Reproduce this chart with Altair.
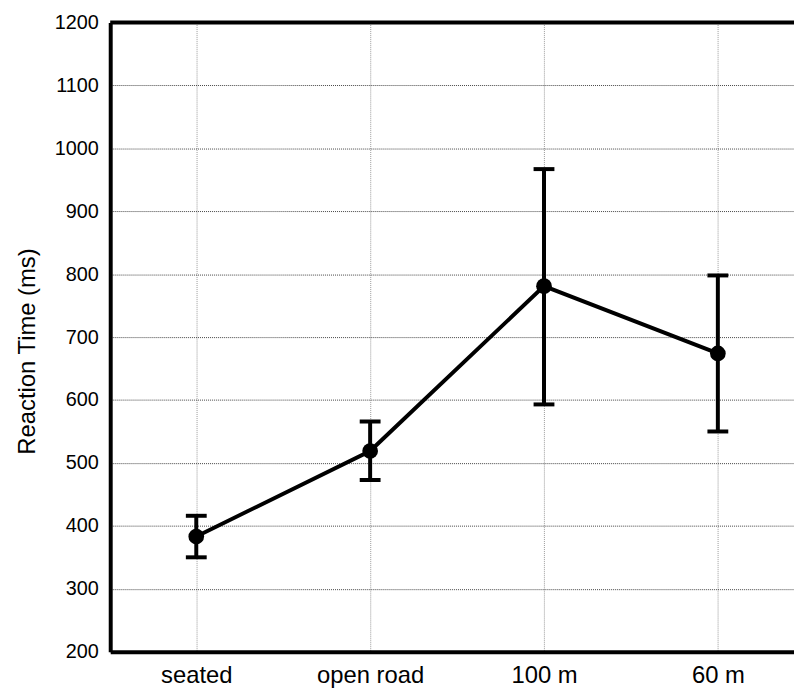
import altair as alt
import pandas as pd

categories = ["seated", "open road", "100 m", "60 m"]
means = [383, 519, 781, 674]
lower = [350, 473, 593, 550]
upper = [416, 566, 967, 798]
y_ticks = [200, 300, 400, 500, 600, 700, 800, 900, 1000, 1100, 1200]

df = pd.DataFrame({"cond": categories, "idx": list(range(len(categories))),
                   "rt": means, "lo": lower, "hi": upper})

FONT = "Liberation Sans"
W, H = 689, 634

label_expr = "[" + ",".join("'" + c + "'" for c in categories) + "][datum.value]"

xscale = alt.Scale(domain=[-0.495, 3.438], nice=False, zero=False)
yscale = alt.Scale(domain=[200, 1200], nice=False, zero=False)

x_enc = alt.X("idx:Q", scale=xscale,
              axis=alt.Axis(title=None, values=list(range(len(categories))),
                            labelExpr=label_expr, gridColor="#999999"))
y_enc = alt.Y("rt:Q", scale=yscale,
              axis=alt.Axis(title="Reaction Time (ms)", values=y_ticks, format="d",
                            gridColor="#444444"))

xs = alt.X("idx:Q", scale=xscale)
base = alt.Chart(df)

line = base.mark_line(color="black", strokeWidth=4).encode(x=x_enc, y=y_enc)
bars = base.mark_rule(color="black", strokeWidth=4).encode(
    x=xs, y=alt.Y("lo:Q", scale=yscale), y2="hi:Q")
cap_lo = base.mark_tick(color="black", orient="horizontal", size=21, thickness=4, opacity=1).encode(
    x=xs, y=alt.Y("lo:Q", scale=yscale))
cap_hi = base.mark_tick(color="black", orient="horizontal", size=21, thickness=4, opacity=1).encode(
    x=xs, y=alt.Y("hi:Q", scale=yscale))
pts = base.mark_point(color="black", filled=True, opacity=1, size=250).encode(
    x=xs, y=alt.Y("rt:Q", scale=yscale))
top = alt.Chart(pd.DataFrame({"v": [1200]})).mark_rule(color="black", strokeWidth=4).encode(
    y=alt.Y("v:Q", scale=yscale), x=alt.value(0), x2=alt.value(W))

chart = alt.layer(line, bars, cap_lo, cap_hi, pts, top).properties(
    width=W, height=H,
    autosize=alt.AutoSizeParams(type="none"),
    padding={"left": 103, "top": 12, "right": 0, "bottom": 38},
).configure_view(stroke=None).configure(background="white").configure_axis(
    labelFont=FONT, labelColor="black", titleFont=FONT, titleColor="black",
    titleFontWeight="normal", ticks=False, tickSize=0,
    domainColor="black", domainWidth=4, grid=True, gridDash=[1, 1], gridWidth=1,
    gridOpacity=1,
).configure_axisX(labelFontSize=24, labelAngle=0, labelPadding=12
).configure_axisY(labelFontSize=20, labelPadding=12, titleFontSize=24, titlePadding=15,
                  titleY=331)

chart.save("out.html", embed_options={"renderer": "svg", "actions": False})
